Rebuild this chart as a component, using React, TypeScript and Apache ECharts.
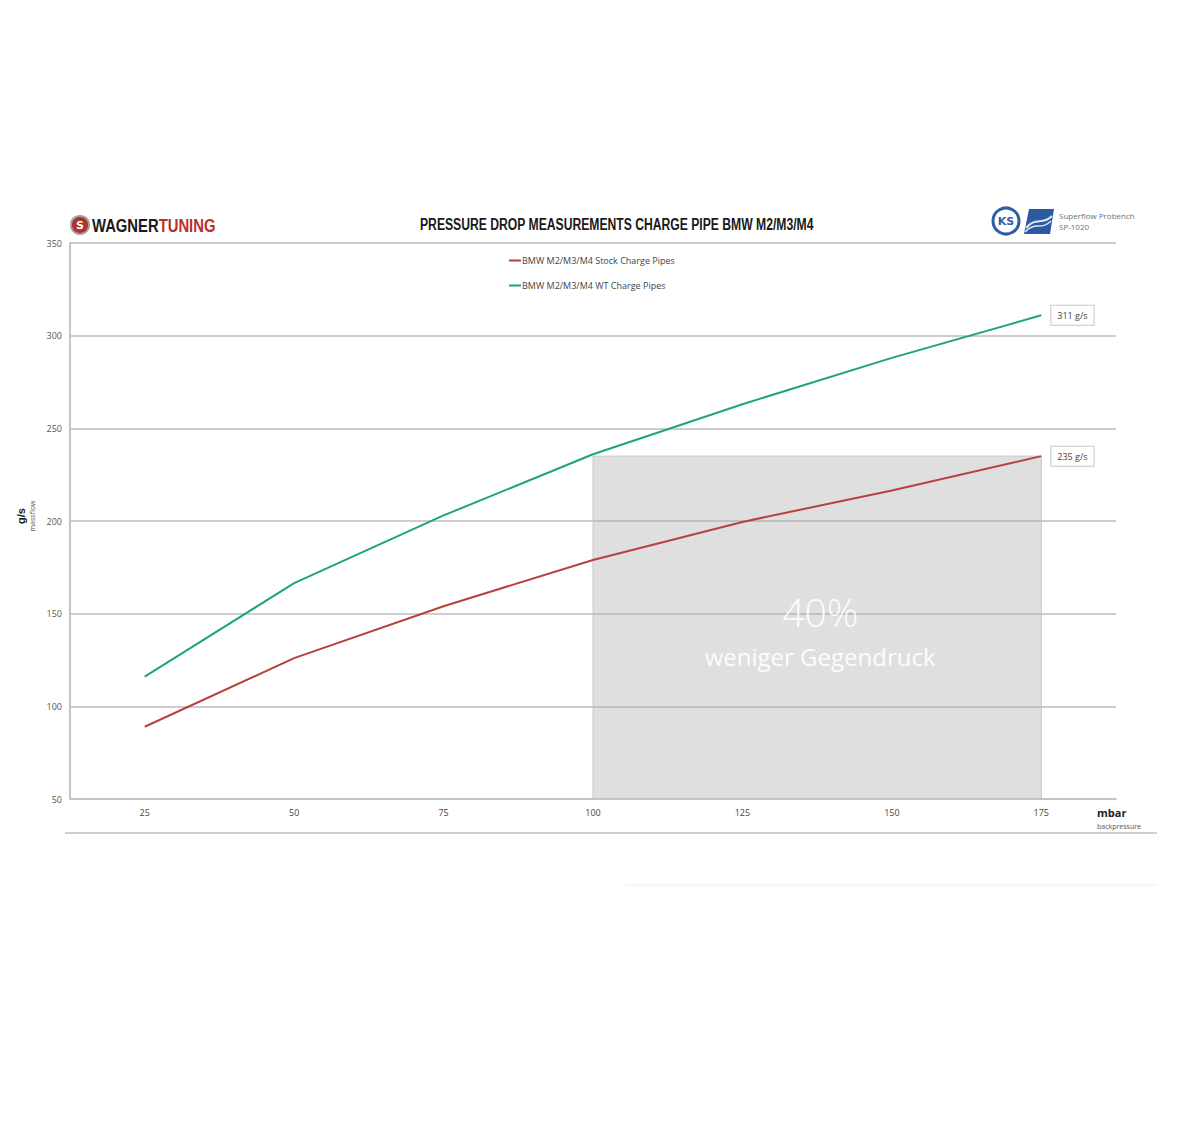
import React, { useEffect, useRef } from "react";
import * as echarts from "echarts";

const categories = ["25", "50", "75", "100", "125", "150", "175"];
const stockValues = [89, 126, 154, 179, 199.5, 216.5, 235];
const wtValues = [116, 166.5, 203, 236, 263, 288, 311];
const seriesNames = ["BMW M2/M3/M4 Stock Charge Pipes", "BMW M2/M3/M4 WT Charge Pipes"];
const yTicks = { min: 50, max: 350, interval: 50 };
const shadeFrom = "100";
const shadeTo = "175";
const titleText = "PRESSURE DROP MEASUREMENTS CHARGE PIPE BMW M2/M3/M4";

const RED = "#b8403d";
const GREEN = "#1fa37d";

function lastLabel(value: number) {
  return {
    value,
    symbolSize: 0,
    label: {
      show: true,
      position: "right",
      distance: 10,
      formatter: "{c} g/s",
      fontSize: 9,
      color: "#444",
      fontFamily: "Open Sans, sans-serif",
      backgroundColor: "#fff",
      borderColor: "#c8c8c8",
      borderWidth: 1,
      padding: [5, 6, 5, 6],
    },
  };
}

export default function App() {
  const ref = useRef<HTMLDivElement>(null);
  useEffect(() => {
    document.body.style.margin = "0";
    const chart = echarts.init(ref.current!, null, { renderer: "svg" });
    const n = categories.length;
    chart.setOption({
      animation: false,
      backgroundColor: "#fff",
      legend: {
        orient: "vertical",
        left: 504,
        top: 251,
        itemGap: 16,
        itemWidth: 12,
        itemHeight: 2,
        icon: "rect",
        textStyle: { fontSize: 9, color: "#444", fontFamily: "Open Sans, sans-serif", padding: [0, 0, 0, -4] },
        data: seriesNames,
      },
      grid: { left: 70, right: 63, top: 243, bottom: 323 },
      xAxis: {
        type: "category",
        data: categories,
        boundaryGap: true,
        axisLine: { lineStyle: { color: "#c4c4c4", width: 2 } },
        axisTick: { show: false },
        axisLabel: { fontSize: 9, color: "#444", margin: 9, fontFamily: "Open Sans, sans-serif" },
        name: "{a|mbar}\n{b|backpressure}",
        nameLocation: "end",
        nameGap: -19,
        nameTextStyle: {
          align: "left",
          verticalAlign: "top",
          padding: [6, 0, 0, 0],
          rich: {
            a: { fontSize: 11, fontWeight: "bold", color: "#222", fontFamily: "Open Sans, sans-serif", lineHeight: 15 },
            b: { fontSize: 7, color: "#555", fontFamily: "Open Sans, sans-serif", lineHeight: 12 },
          },
        },
      },
      yAxis: {
        type: "value",
        min: yTicks.min,
        max: yTicks.max,
        interval: yTicks.interval,
        axisLine: { show: true, lineStyle: { color: "#c4c4c4", width: 2 } },
        axisTick: { show: false },
        splitLine: { lineStyle: { color: "#cdcdcd", width: 2 } },
        axisLabel: { fontSize: 9, color: "#555", margin: 8, fontFamily: "Open Sans, sans-serif" },
        name: "{a|g/s}\n{b|massflow}",
        nameLocation: "middle",
        nameRotate: 90,
        nameGap: 33,
        nameTextStyle: {
          padding: [0, 0, 0, 10],
          rich: {
            a: { fontSize: 11, fontWeight: "bold", color: "#222", fontFamily: "Liberation Sans, sans-serif", lineHeight: 12 },
            b: { fontSize: 7, color: "#555", fontFamily: "Open Sans, sans-serif", lineHeight: 10 },
          },
        },
      },
      series: [
        {
          name: seriesNames[0],
          type: "line",
          data: stockValues.map((v, i) => (i === n - 1 ? lastLabel(v) : v)),
          showSymbol: true,
          symbol: "circle",
          symbolSize: 0,
          lineStyle: { color: RED, width: 2 },
          itemStyle: { color: RED },
          z: 3,
          markArea: {
            silent: true,
            itemStyle: { color: "rgba(170,170,170,0.38)", borderColor: "#c6c6c6", borderWidth: 1 },
            label: {
              show: true,
              position: "inside",
              offset: [3, 7],
              formatter: "{a|40%}\n{b|weniger Gegendruck}",
              rich: {
                a: { fontSize: 39, color: "rgba(255,255,255,0.92)", fontFamily: "Open Sans, sans-serif", fontWeight: 300, lineHeight: 44, align: "center" },
                b: { fontSize: 24, color: "rgba(255,255,255,0.92)", fontFamily: "Open Sans, sans-serif", lineHeight: 46, align: "center" },
              },
            },
            data: [[{ coord: [shadeFrom, stockValues[n - 1]] }, { coord: [shadeTo, yTicks.min] }]],
          },
        },
        {
          name: seriesNames[1],
          type: "line",
          data: wtValues.map((v, i) => (i === n - 1 ? lastLabel(v) : v)),
          showSymbol: true,
          symbol: "circle",
          symbolSize: 0,
          lineStyle: { color: GREEN, width: 2 },
          itemStyle: { color: GREEN },
          z: 4,
        },
      ],
      graphic: [
        // title
        {
          type: "text",
          x: 420,
          y: 224,
          scaleX: 0.76,
          style: {
            text: titleText,
            fill: "#1a1a1a",
            fontSize: 16,
            fontWeight: "bold",
            verticalAlign: "middle",
            fontFamily: "Liberation Sans, sans-serif",
          },
        },
        // Wagner logo
        { type: "circle", shape: { cx: 80, cy: 225, r: 9 }, style: { fill: "#b3302e", stroke: "#a0a0a0", lineWidth: 2 } },
        { type: "text", x: 80, y: 225, style: { text: "S", fill: "#fff", fontSize: 11, fontWeight: "bold", align: "center", verticalAlign: "middle", fontFamily: "DejaVu Sans, sans-serif" } },
        {
          type: "text",
          x: 92,
          y: 226,
          scaleX: 0.78,
          style: {
            text: "{a|WAGNER}{b|TUNING}",
            verticalAlign: "middle",
            rich: {
              a: { fontSize: 19, fontWeight: "bold", fill: "#1a1a1a", fontFamily: "Liberation Sans, sans-serif" },
              b: { fontSize: 19, fontWeight: "bold", fill: "#b8302e", fontFamily: "Liberation Sans, sans-serif" },
            },
          },
        },
        // right logos
        { type: "circle", shape: { cx: 1006, cy: 221, r: 13 }, style: { fill: "#fff", stroke: "#2f5da8", lineWidth: 3 } },
        { type: "text", x: 1006, y: 221, style: { text: "KS", fill: "#2f5da8", fontSize: 11, fontWeight: "bold", align: "center", verticalAlign: "middle", fontFamily: "DejaVu Sans, sans-serif" } },
        { type: "polygon", shape: { points: [[1029, 209], [1054, 209], [1050, 234], [1024, 234]] }, style: { fill: "#2c5aa0" } },
        { type: "bezierCurve", shape: { x1: 1026, y1: 228, x2: 1052, y2: 216, cpx1: 1036, cpy1: 216, cpx2: 1042, cpy2: 226 }, style: { stroke: "#dfe8f5", lineWidth: 2, fill: null } },
        { type: "bezierCurve", shape: { x1: 1025, y1: 232, x2: 1051, y2: 221, cpx1: 1035, cpy1: 221, cpx2: 1041, cpy2: 231 }, style: { stroke: "#dfe8f5", lineWidth: 1.5, fill: null } },
        { type: "text", x: 1059, y: 215, style: { text: "Superflow Probench", fill: "#6a7080", fontSize: 8, verticalAlign: "middle", fontFamily: "Open Sans, sans-serif" } },
        { type: "text", x: 1059, y: 226, style: { text: "SP-1020", fill: "#6a7080", fontSize: 8, verticalAlign: "middle", fontFamily: "Open Sans, sans-serif" } },
        // decorative lines below
        { type: "line", shape: { x1: 65, y1: 833, x2: 1157, y2: 833 }, style: { stroke: "#cfcfcf", lineWidth: 2 } },
        { type: "line", shape: { x1: 625, y1: 885, x2: 1157, y2: 885 }, style: { stroke: "#ececec", lineWidth: 1 } },
      ],
    });
    return () => chart.dispose();
  }, []);
  return <div ref={ref} style={{ width: 1179, height: 1122 }} />;
}
